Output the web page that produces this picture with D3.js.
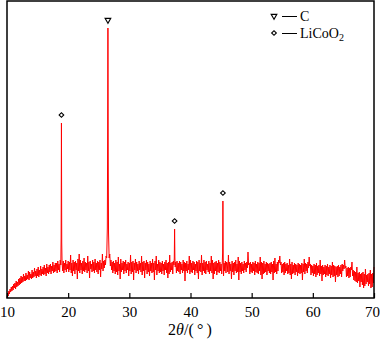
<!DOCTYPE html>
<html>
<head>
<meta charset="utf-8">
<script src="https://cdn.jsdelivr.net/npm/d3@7"></script>
<style>
  html, body { margin: 0; padding: 0; background: #fff; }
  svg { display: block; }
  text { font-family: "Liberation Serif", "Times New Roman", serif; fill: #000; }
</style>
</head>
<body>
<div id="chart"></div>
<script>
// ---- data ----
const angleStart = 10;
const angleStep = 0.1;
// intensities (a.u.) sampled every 0.1 deg from 10.0 to 70.0 (one row per degree)
const intensity = [
  0, 4, 2, 7, 4, 9, 6, 11, 7, 12,          // 10
  8, 14, 10, 15, 9, 17, 11, 16, 12, 19,    // 11
  13, 20, 14, 22, 15, 21, 16, 24, 17, 22,  // 12
  17, 25, 18, 23, 19, 27, 18, 26, 20, 24,  // 13
  19, 28, 20, 26, 21, 30, 22, 27, 20, 29,  // 14
  22, 31, 21, 28, 23, 32, 22, 29, 24, 31,  // 15
  23, 33, 24, 30, 22, 34, 25, 31, 24, 33,  // 16
  26, 34, 24, 32, 27, 36, 25, 33, 26, 35,  // 17
  27, 35, 25, 37, 28, 34, 26, 38, 33, 175, // 18
  36, 27, 37, 25, 35, 28, 38, 26, 34, 29,  // 19
  37, 26, 36, 28, 43, 25, 35, 22, 38, 27,  // 20
  36, 24, 37, 28, 35, 19, 39, 27, 44, 25,  // 21
  38, 28, 35, 24, 37, 27, 40, 26, 36, 28,  // 22
  35, 25, 42, 27, 36, 20, 37, 29, 34, 26,  // 23
  38, 27, 36, 25, 39, 28, 35, 26, 37, 24,  // 24
  36, 28, 38, 21, 35, 29, 44, 27, 37, 30,  // 25
  38, 33, 42, 40, 70, 270, 65, 40, 44, 32, // 26
  38, 28, 36, 25, 37, 27, 35, 24, 38, 26,  // 27
  36, 23, 41, 27, 34, 19, 39, 26, 35, 28,  // 28
  37, 24, 36, 27, 38, 25, 34, 28, 36, 22,  // 29
  35, 27, 43, 24, 36, 26, 37, 18, 35, 28,  // 30
  39, 25, 36, 27, 34, 24, 37, 28, 35, 26,  // 31
  42, 23, 36, 27, 37, 20, 35, 28, 38, 24,  // 32
  36, 26, 34, 22, 37, 27, 35, 25, 39, 26,  // 33
  35, 18, 37, 28, 42, 23, 34, 27, 38, 25,  // 34
  36, 26, 35, 24, 37, 27, 34, 23, 36, 28,  // 35
  38, 25, 35, 20, 36, 24, 43, 26, 35, 28,  // 36
  36, 24, 37, 33, 69, 31, 36, 25, 37, 27,  // 37
  35, 26, 37, 24, 36, 28, 34, 25, 38, 27,  // 38
  36, 17, 35, 27, 37, 25, 34, 28, 42, 24,  // 39
  38, 26, 35, 25, 37, 28, 36, 23, 34, 27,  // 40
  37, 25, 36, 19, 38, 27, 35, 26, 43, 23,  // 41
  35, 27, 38, 25, 36, 24, 37, 28, 34, 26,  // 42
  37, 24, 35, 27, 42, 25, 38, 19, 35, 24,  // 43
  36, 27, 37, 23, 35, 26, 38, 25, 36, 27,  // 44
  34, 24, 36, 97, 22, 35, 27, 37, 25, 36,  // 45
  35, 26, 43, 24, 36, 27, 34, 19, 37, 26,  // 46
  35, 23, 36, 27, 38, 25, 34, 26, 41, 18,  // 47
  37, 26, 35, 24, 36, 27, 34, 25, 37, 28,  // 48
  35, 26, 36, 30, 46, 33, 35, 24, 36, 26,  // 49
  34, 25, 36, 27, 35, 23, 37, 26, 34, 25,  // 50
  36, 24, 35, 27, 41, 23, 36, 19, 35, 24,  // 51
  37, 25, 34, 26, 36, 23, 35, 27, 34, 25,  // 52
  35, 24, 36, 26, 34, 18, 37, 25, 40, 26,  // 53
  34, 24, 36, 27, 38, 35, 42, 33, 36, 25,  // 54
  34, 26, 35, 23, 36, 25, 34, 27, 35, 24,  // 55
  33, 25, 39, 23, 34, 19, 36, 24, 33, 25,  // 56
  35, 23, 34, 26, 33, 22, 35, 25, 34, 24,  // 57
  33, 25, 35, 18, 34, 26, 39, 24, 35, 27,  // 58
  34, 25, 36, 30, 41, 32, 34, 23, 33, 25,  // 59
  32, 22, 34, 24, 33, 21, 35, 23, 32, 25,  // 60
  33, 22, 38, 24, 32, 17, 33, 23, 31, 24,  // 61
  33, 21, 32, 23, 34, 22, 31, 24, 33, 20,  // 62
  32, 23, 36, 21, 33, 22, 32, 16, 31, 23,  // 63
  32, 21, 33, 22, 31, 24, 33, 21, 34, 27,  // 64
  33, 29, 38, 30, 32, 21, 30, 22, 31, 20,  // 65
  30, 21, 31, 28, 36, 22, 28, 18, 27, 17,  // 66
  26, 16, 31, 15, 25, 17, 26, 11, 24, 16,  // 67
  25, 13, 26, 10, 24, 12, 29, 14, 23, 16,  // 68
  24, 12, 25, 14, 28, 10, 24, 11, 25, 15,  // 69
  31                                       // 70
];
// extra points on the flanks of the sharp peaks
const flankAngles    = [18.85, 18.95, 26.45, 26.55, 37.35, 37.45, 45.25, 45.35];
const flankIntensity = [60,    55,    150,   140,   40,    40,    45,    40];

// peak labels
const markerAngles  = [18.9, 26.5, 37.4, 45.3];
const markerHeights = [175, 270, 69, 97];
const markerPhase   = ["LiCoO2", "C", "LiCoO2", "LiCoO2"];

const xTicks = [10, 20, 30, 40, 50, 60, 70];
const xDomain = [10, 70];
const yDomain = [0, 297];

// ---- build series ----
const series = intensity.map((v, i) => ({ a: +(angleStart + i * angleStep).toFixed(2), v }))
  .concat(flankAngles.map((a, i) => ({ a, v: flankIntensity[i] })))
  .sort((p, q) => p.a - q.a);

// ---- chart ----
const W = 380, H = 341;
const L = 7, R = 374, T = 1, B = 298;

const svg = d3.select("#chart").append("svg").attr("width", W).attr("height", H);

const x = d3.scaleLinear().domain(xDomain).range([L, R]);
const y = d3.scaleLinear().domain(yDomain).range([B, T]);

// data line
svg.append("path")
  .datum(series)
  .attr("fill", "none")
  .attr("stroke", "#ff0000")
  .attr("stroke-width", 1)
  .attr("d", d3.line().x(d => x(d.a)).y(d => y(d.v)));

// axis
const axis = d3.axisBottom(x).tickValues(xTicks).tickSize(-5).tickPadding(8).tickFormat(d3.format("d"));
const gx = svg.append("g").attr("transform", `translate(0,${B})`).call(axis);
gx.select(".domain").remove();
gx.selectAll(".tick line").attr("stroke", "#000").attr("stroke-width", 1.2);
gx.selectAll(".tick text").style("font-size", "15px").style("font-family", '"Liberation Serif", serif');
gx.selectAll(".tick text").filter(d => d === 70).attr("dx", -2);

// frame
svg.append("rect")
  .attr("x", L).attr("y", T).attr("width", R - L).attr("height", B - T)
  .attr("fill", "none").attr("stroke", "#000").attr("stroke-width", 1.5);

// axis title
const title = svg.append("text")
  .attr("x", 190).attr("y", 335)
  .attr("text-anchor", "middle")
  .style("font-size", "16px");
title.append("tspan").text("2");
title.append("tspan").style("font-style", "italic").text("θ");
title.append("tspan").text("/(\u2009°\u2009)");

// markers
const tri = d3.symbol().type(d3.symbolTriangle).size(14)();
const dia = d3.symbol().type(d3.symbolSquare).size(11)();
function marker(g, phase) {
  if (phase === "C") {
    g.append("path").attr("d", tri).attr("transform", "rotate(180)");
  } else {
    g.append("path").attr("d", dia).attr("transform", "rotate(45)");
  }
  g.selectAll("path").attr("fill", "#fff").attr("stroke", "#000").attr("stroke-width", 1.1);
}
markerAngles.forEach((a, i) => {
  const g = svg.append("g").attr("transform", `translate(${x(a)},${y(markerHeights[i]) - 8})`);
  marker(g, markerPhase[i]);
});

// legend
const legendItems = [
  { phase: "C", y: 16 },
  { phase: "LiCoO2", y: 33 }
];
legendItems.forEach(it => {
  const g = svg.append("g").attr("transform", `translate(274,${it.y})`);
  marker(g, it.phase);
  svg.append("line").attr("x1", 282).attr("x2", 297).attr("y1", it.y + 0.5).attr("y2", it.y + 0.5)
    .attr("stroke", "#000").attr("stroke-width", 1);
  const t = svg.append("text").attr("x", 300).attr("y", it.y + 5).style("font-size", "14px");
  if (it.phase === "C") {
    t.text("C");
  } else {
    t.append("tspan").text("LiCoO");
    t.append("tspan").attr("dy", 3).style("font-size", "10px").text("2");
  }
});
</script>
</body>
</html>
